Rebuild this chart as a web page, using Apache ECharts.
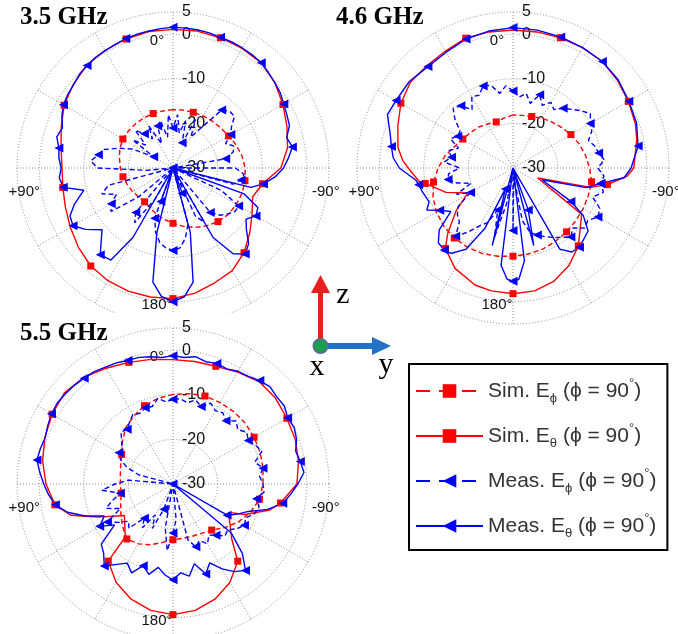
<!DOCTYPE html>
<html><head><meta charset="utf-8">
<script src="https://cdn.jsdelivr.net/npm/echarts@6/dist/echarts.min.js"></script>
<style>html,body{margin:0;padding:0;background:#fff}#c{width:678px;height:634px}</style>
</head><body><div id="c"></div>
<script>
// ---- tick labels / categories ----
const freqTitles = ['3.5 GHz', '4.6 GHz', '5.5 GHz'];
const angleTicks = [0, 90, 180, 270];
const angleTickText = ['0°', '+90°', '180°', '-90°'];
const ringMin = -30, ringMax = 5, ringStep = 10;
const seriesNames = ['Sim. Eϕ (ϕ = 90°)', 'Sim. Eθ (ϕ = 90°)', 'Meas. Eϕ (ϕ = 90°)', 'Meas. Eθ (ϕ = 90°)'];

// ---- data: [angle (deg, 0 = top, +90 = left), level (dB)] ----
const sim35Phi = [[0,-16.9],[10,-17.0],[20,-17.0],[30,-17.0],[40,-17.0],[50,-17.0],[60,-17.0],[70,-17.3],[80,-17.8],[90,-18.2],[100,-18.6],[110,-19.1],[120,-19.5],[130,-19.9],[140,-20.1],[150,-19.7],[160,-19.0],[170,-18.3],[180,-17.6],[190,-16.7],[200,-15.8],[210,-15.0],[220,-14.3],[230,-13.8],[240,-13.6],[250,-13.5],[260,-13.6],[270,-13.8],[280,-14.3],[290,-14.9],[300,-15.6],[310,-16.0],[320,-16.3],[330,-16.5],[340,-16.7],[350,-16.8]];
const sim35Theta = [[0,1.1],[10,1.1],[20,0.8],[30,0.5],[40,0.1],[50,-0.8],[60,-1.8],[70,-3.3],[80,-4.5],[90,-5.1],[100,-4.9],[110,-4.3],[120,-3.4],[130,-2.3],[140,-1.3],[150,-0.8],[160,-0.6],[170,-0.6],[180,-0.7],[190,-1.5],[200,-2.6],[210,-3.4],[220,-5.2],[230,-7.5],[240,-9.5],[250,-11.0],[260,-9.6],[270,-5.8],[280,-3.9],[290,-2.8],[300,-1.5],[310,-0.2],[320,0.8],[330,1.0],[340,1.1],[350,1.2]];
const meas35Phi = [[0,-21],[5,-18],[10,-23],[15,-19],[20,-20],[25,-24],[30,-19],[35,-22],[40,-20],[45,-18],[50,-22],[55,-19],[60,-25],[65,-20],[70,-17],[75,-14],[80,-13],[85,-11.5],[90,-13],[95,-24],[100,-30],[105,-15],[110,-13],[115,-16],[120,-14],[125,-13],[130,-20],[135,-30],[140,-17],[145,-15],[150,-22],[155,-30],[160,-18],[165,-15],[170,-13],[175,-12],[180,-11.5],[185,-12],[190,-14],[195,-17],[200,-30],[205,-18],[210,-16],[215,-30],[220,-17],[225,-15],[230,-14],[235,-13],[240,-13],[245,-18],[250,-30],[255,-16],[260,-14.5],[265,-14],[270,-16],[275,-30],[280,-18],[285,-16],[290,-15.5],[295,-17],[300,-15],[305,-14],[310,-12],[315,-12],[320,-13],[325,-19],[330,-22],[335,-18],[340,-24],[345,-19],[350,-22],[355,-18]];
const meas35Theta = [[0,1.6],[5,1.4],[10,1.2],[15,1.1],[20,0.9],[25,0.6],[30,0.4],[35,0.3],[40,0.0],[45,-0.3],[50,-0.9],[55,-1.2],[60,-1.6],[65,-2.5],[70,-3.6],[75,-3.0],[80,-4.0],[85,-4.3],[90,-4.9],[95,-4.4],[100,-5.0],[104,-9.4],[110,-6.5],[115,-4.5],[120,-4.1],[125,-6.0],[131,-8.9],[140,-4.6],[146,-5.1],[150,-12],[155,-30],[160,-22],[163,-30],[166,-15],[170,-4],[175,-1],[180,0.0],[185,-1],[190,-4],[195,-15],[198,-30],[200,-24],[204,-30],[210,-12],[215,-6.5],[220,-4.8],[225,-6],[230,-8.5],[235,-10],[240,-8.5],[245,-9],[250,-13],[253,-30],[256,-12],[260,-9.4],[265,-7],[270,-5.2],[275,-4.0],[280,-2.8],[285,-3.6],[290,-2.2],[295,-1.8],[300,-1.3],[305,-0.6],[310,-0.2],[315,0.3],[320,0.8],[325,1.0],[330,1.1],[335,1.2],[340,1.2],[345,1.4],[350,1.5],[355,1.5]];

const sim46Phi = [[0,-18.1],[10,-18.6],[20,-19.0],[30,-18.6],[40,-18.0],[50,-17.6],[60,-17.0],[70,-16.0],[80,-14.5],[90,-13.2],[100,-11.9],[110,-10.9],[120,-10.2],[130,-9.7],[140,-9.5],[150,-9.5],[160,-9.6],[170,-9.9],[180,-10.2],[190,-10.4],[200,-10.6],[210,-11.0],[220,-11.3],[230,-11.6],[240,-11.8],[250,-12.0],[260,-12.1],[270,-12.8],[280,-13.5],[290,-14.2],[300,-15.0],[310,-15.8],[320,-16.5],[330,-17.1],[340,-17.7],[350,-18.0]];
const sim46Theta = [[0,0.95],[10,1.0],[20,1.0],[30,0.3],[40,0.0],[50,0.0],[60,-0.95],[70,-2.5],[80,-3.8],[86,-5.2],[90,-6.5],[98,-8.7],[100,-10.0],[110,-14.0],[119,-18.4],[127,-14],[135,-9.3],[140,-6.4],[150,-4.0],[162,-2.4],[170,-2.0],[180,-1.8],[190,-2.0],[200,-3.0],[210,-4.8],[220,-7.2],[236,-11.4],[248,-24],[256,-12],[260,-8.5],[266,-4.3],[270,-2.9],[283,-1.5],[290,-0.8],[300,-0.1],[310,0.6],[320,1.2],[330,1.2],[340,1.1],[350,1.0]];
const meas46Phi = [[0,-12.7],[5,-11.5],[10,-13],[15,-10.8],[20,-10.4],[25,-12],[30,-11.5],[35,-14],[40,-11.8],[45,-11],[50,-13],[55,-15.5],[60,-15.7],[65,-14.5],[70,-17],[75,-15],[80,-16],[85,-14.5],[90,-18],[95,-15.5],[100,-15.2],[105,-17],[110,-20],[115,-16],[120,-19],[125,-15],[130,-13.7],[135,-13],[140,-10],[145,-12.5],[150,-15],[155,-16.5],[160,-20],[165,-14],[170,-22],[175,-30],[180,-16],[185,-28],[190,-18],[195,-15],[200,-14],[205,-13],[210,-12],[215,-11],[220,-9.8],[225,-11],[230,-9],[235,-9.5],[240,-8],[245,-8.5],[250,-11],[255,-9],[260,-10],[265,-9.5],[270,-11],[275,-9.4],[280,-10.5],[285,-11],[290,-12],[295,-10.5],[300,-10],[305,-8.8],[310,-10],[315,-11.4],[320,-12.5],[325,-14],[330,-13],[335,-14.5],[340,-12.5],[345,-15],[350,-13],[355,-14]];
const meas46Theta = [[0,1.5],[10,1.2],[20,0.8],[30,0.0],[40,-0.3],[50,0.3],[60,0.3],[67,0.6],[75,-1.5],[80,-2.3],[85,-3.0],[90,-4.5],[97,-8.0],[100,-8.5],[105,-9.0],[112,-9.7],[116,-8.5],[120,-11],[125,-13],[130,-8.4],[135,-6.3],[140,-6.0],[144,-6.3],[150,-9],[155,-15],[160,-25],[165,-12],[170,-30],[173,-8],[177,-5],[180,-4.6],[183,-5],[187,-9],[190,-30],[195,-12],[200,-20],[205,-30],[210,-9],[215,-7],[220,-6.8],[230,-8],[236,-11],[240,-15],[248,-23],[255,-13],[260,-10],[265,-5],[270,-3.5],[280,-1.5],[290,-0.5],[300,0.0],[310,0.8],[320,1.2],[330,1.2],[340,1.3],[350,1.4]];

const sim55Phi = [[0,-9.9],[10,-10.5],[20,-11.3],[30,-12.4],[40,-13.5],[50,-15.2],[60,-16.7],[70,-17.5],[80,-18.0],[90,-18.2],[100,-18.2],[110,-17.5],[120,-16.5],[130,-15.2],[140,-13.9],[150,-14.5],[160,-15.5],[170,-16.7],[180,-17.5],[190,-17.6],[200,-17.5],[210,-17.2],[220,-16.5],[230,-14.8],[240,-13.0],[250,-11.5],[260,-10.3],[270,-9.8],[280,-9.5],[290,-9.2],[300,-9.0],[310,-8.8],[320,-8.8],[330,-8.9],[340,-9.0],[350,-9.4]];
const sim55Theta = [[0,-2.1],[10,-1.6],[20,-0.95],[30,0.0],[40,1.2],[50,1.8],[60,1.3],[70,0.6],[80,-0.3],[90,-1.5],[100,-3.1],[107,-6],[114,-11.7],[123,-17],[138,-14],[140,-7.4],[150,-4.5],[160,-2.5],[170,-1.2],[180,-0.7],[190,-1.2],[200,-2.5],[210,-4.5],[220,-7.4],[227,-12],[243,-16],[247,-12.5],[255,-7.5],[260,-5.5],[270,-2.2],[280,-1.4],[290,-0.8],[300,-0.5],[310,0.0],[320,0.0],[330,-1.0],[340,-1.9],[350,-2.1]];
const meas55Phi = [[0,-11],[5,-11.5],[10,-10.5],[15,-12],[20,-11.8],[25,-12.5],[30,-12],[35,-13],[40,-14],[45,-13.5],[50,-15],[55,-16],[60,-16],[65,-17],[70,-19],[75,-22],[80,-30],[85,-20],[90,-17],[95,-14],[100,-18],[105,-16],[110,-14],[115,-17],[120,-13],[125,-15],[130,-17],[135,-16],[140,-20],[145,-18],[150,-22],[155,-19],[160,-24],[165,-30],[170,-20],[175,-15],[180,-19],[185,-22],[190,-30],[195,-17],[200,-15],[205,-16],[210,-14.5],[215,-16],[220,-15],[225,-13.5],[230,-14],[235,-12.5],[240,-11.5],[245,-12],[250,-10.5],[255,-10],[260,-11],[265,-9.5],[270,-9.8],[275,-10.5],[280,-9.5],[285,-11],[290,-8.8],[295,-9.5],[300,-10.5],[305,-9.8],[310,-11],[315,-10],[320,-11.5],[325,-10.5],[330,-11],[335,-10],[340,-11.5],[345,-10.5],[350,-11.5],[355,-10.8]];
const meas55Theta = [[0,-1.2],[5,-1.5],[10,-1.0],[15,-0.6],[20,-0.5],[25,0.0],[30,0.3],[35,0.8],[40,1.0],[45,1.3],[50,1.5],[55,1.7],[60,1.5],[65,1.0],[70,0.5],[75,0.8],[80,1.0],[85,0.0],[90,-1.0],[95,-2.0],[100,-3.2],[105,-5.5],[110,-9],[115,-13],[120,-11],[125,-14],[130,-9],[135,-8],[140,-6],[145,-8],[150,-9.5],[155,-8],[160,-10.5],[165,-9],[170,-11],[175,-9.5],[180,-8.5],[185,-10],[190,-9],[195,-11.5],[200,-8.5],[205,-10.5],[210,-8],[215,-6],[220,-4.7],[225,-8],[230,-13],[235,-30],[240,-16],[245,-14],[250,-12],[255,-8],[260,-5],[265,-3.5],[270,-2.0],[275,-0.5],[280,-1.0],[285,-1.5],[290,-0.5],[295,0.0],[300,-0.3],[305,0.5],[310,0.4],[315,0.8],[320,0.3],[325,-0.5],[330,-0.8],[335,-1.5],[340,-1.2],[345,-1.6],[350,-1.0],[355,-1.5]];

const datasets = [
  [sim35Phi, sim35Theta, meas35Phi, meas35Theta],
  [sim46Phi, sim46Theta, meas46Phi, meas46Theta],
  [sim55Phi, sim55Theta, meas55Phi, meas55Theta]
];

// ---- layout / style ----
const centers = [[173, 168], [513, 168], [173, 484]];
const R = 156;
const FONT = 'Liberation Sans, Arial, sans-serif';
const RED = '#ff0000', BLUE = '#0000ff';
const gridLine = { color: '#8c8c8c', type: [1, 2], width: 1 };

function toPolar(arr) {
  const pts = arr.map(p => [Math.max(p[1], ringMin), p[0]]);
  pts.push([Math.max(arr[0][1], ringMin), 360]);
  return pts;
}

const polar = centers.map(c => ({ center: c, radius: R }));
const angleAxis = centers.map((c, i) => ({
  polarIndex: i, type: 'value', min: 0, max: 360, interval: 30,
  startAngle: 90, clockwise: false, z: i === 2 ? 3 : 0,
  axisLine: { show: false }, axisTick: { show: false },
  splitLine: { show: true, lineStyle: gridLine },
  axisLabel: {
    margin: -36, fontSize: 15, fontFamily: FONT, color: '#111',
    formatter: v => {
      const k = angleTicks.indexOf(v);
      return k < 0 ? '' : '{p' + k + '|' + angleTickText[k] + '}';
    },
    rich: {
      p0: { fontSize: 15, fontFamily: FONT, color: '#111', padding: [0, 32, 0, 0] },
      p1: { fontSize: 15, fontFamily: FONT, color: '#111', padding: [48, 13, 0, 0] },
      p2: { fontSize: 15, fontFamily: FONT, color: '#111', padding: [9, 32, 0, 0] },
      p3: { fontSize: 15, fontFamily: FONT, color: '#111', padding: [48, 0, 0, 19] }
    }
  }
}));
const radiusAxis = centers.map((c, i) => ({
  polarIndex: i, type: 'value', min: ringMin, max: ringMax, interval: ringStep,
  z: i === 2 ? 3 : 0,
  axisLine: { show: false }, axisTick: { show: false },
  splitLine: { show: true, lineStyle: gridLine },
  axisLabel: {
    margin: -9, align: 'left', verticalAlign: 'middle', padding: [0, 0, 8, 0],
    fontSize: 16, fontFamily: FONT, color: '#111', formatter: v => String(v)
  }
}));

const styles = [
  { color: RED, dash: [5, 3], symbol: 'rect', rot: 0, size: 7, step: 40, off: 20 },
  { color: RED, dash: 'solid', symbol: 'rect', rot: 0, size: 7, step: 40, off: 20 },
  { color: BLUE, dash: [5, 3], symbol: 'triangle', rot: 90, size: 9, step: 20, off: 0 },
  { color: BLUE, dash: 'solid', symbol: 'triangle', rot: 90, size: 9, step: 20, off: 0 }
];

const series = [];
datasets.forEach((set, i) => {
  set.forEach((arr, k) => {
    const st = styles[k];
    series.push({
      type: 'line', name: seriesNames[k], coordinateSystem: 'polar', polarIndex: i,
      data: toPolar(arr), symbol: st.symbol, symbolRotate: st.rot,
      symbolSize: v => (v[1] < 360 && Math.round(v[1]) % st.step === st.off) ? st.size : 0,
      showSymbol: true, animation: false, silent: true, z: i === 2 ? 4 : 2,
      lineStyle: { color: st.color, width: 1.4, type: st.dash },
      itemStyle: { color: st.color }
    });
  });
});

const legendDash = [[14, 9], 'solid', [14, 9], 'solid'];
const option = {
  backgroundColor: '#fff',
  animation: false,
  title: [
    { text: freqTitles[0], left: 20, top: 5 },
    { text: freqTitles[1], left: 336, top: 5 },
    { text: freqTitles[2], left: 20, top: 321 }
  ].map(t => Object.assign(t, { padding: 0, textStyle: { fontFamily: 'Liberation Serif, Times New Roman, serif', fontWeight: 'bold', fontSize: 25, color: '#000' } })),
  polar, angleAxis, radiusAxis, series,
  legend: {
    orient: 'vertical', left: 409, top: 364,
    data: seriesNames.map((n, k) => ({ name: n, lineStyle: { type: legendDash[k], width: 2 } })),
    itemWidth: 67, itemHeight: 17, itemGap: 17,
    padding: [13, 11, 10, 6],
    borderColor: '#000', borderWidth: 2, backgroundColor: '#fff',
    selectedMode: false,
    formatter: name => {
      const m = name.match(/^(.*E)(.)( \(ϕ = 90)°\)$/);
      return '{t|' + m[1] + '}{s|' + m[2] + '}{t|' + m[3] + '}{d|°}{t|)}';
    },
    textStyle: {
      rich: {
        t: { fontSize: 21, fontFamily: FONT, color: '#333', lineHeight: 28 },
        s: { fontSize: 13, fontFamily: FONT, color: '#333', lineHeight: 12, verticalAlign: 'bottom' },
        d: { fontSize: 13, fontFamily: FONT, color: '#333', lineHeight: 12, verticalAlign: 'top' }
      }
    }
  },
  graphic: [
    { type: 'rect', z: 1, shape: { x: 0, y: 313, width: 340, height: 321 }, style: { fill: '#fff' } },
    { type: 'rect', z: 10, shape: { x: 318, y: 292, width: 5, height: 54 }, style: { fill: '#e8201b' } },
    { type: 'polygon', z: 10, shape: { points: [[311, 293], [330, 293], [320.5, 275]] }, style: { fill: '#e8201b' } },
    { type: 'rect', z: 10, shape: { x: 321, y: 343, width: 52, height: 6 }, style: { fill: '#1f72c4' } },
    { type: 'polygon', z: 10, shape: { points: [[372, 337], [372, 355], [391, 346]] }, style: { fill: '#1f72c4' } },
    { type: 'circle', z: 11, shape: { cx: 320.5, cy: 346, r: 7 }, style: { fill: '#1aa04b', stroke: '#56708f', lineWidth: 2 } },
    { type: 'text', z: 11, style: { text: 'z', x: 343, y: 295, font: '30px Liberation Serif, serif', fill: '#000', align: 'center', verticalAlign: 'middle' } },
    { type: 'text', z: 11, style: { text: 'x', x: 317, y: 367, font: '30px Liberation Serif, serif', fill: '#000', align: 'center', verticalAlign: 'middle' } },
    { type: 'text', z: 11, style: { text: 'y', x: 386, y: 365, font: '30px Liberation Serif, serif', fill: '#000', align: 'center', verticalAlign: 'middle' } }
  ]
};

const chart = echarts.init(document.getElementById('c'), null, { renderer: 'canvas' });
chart.setOption(option);
</script>
</body></html>
